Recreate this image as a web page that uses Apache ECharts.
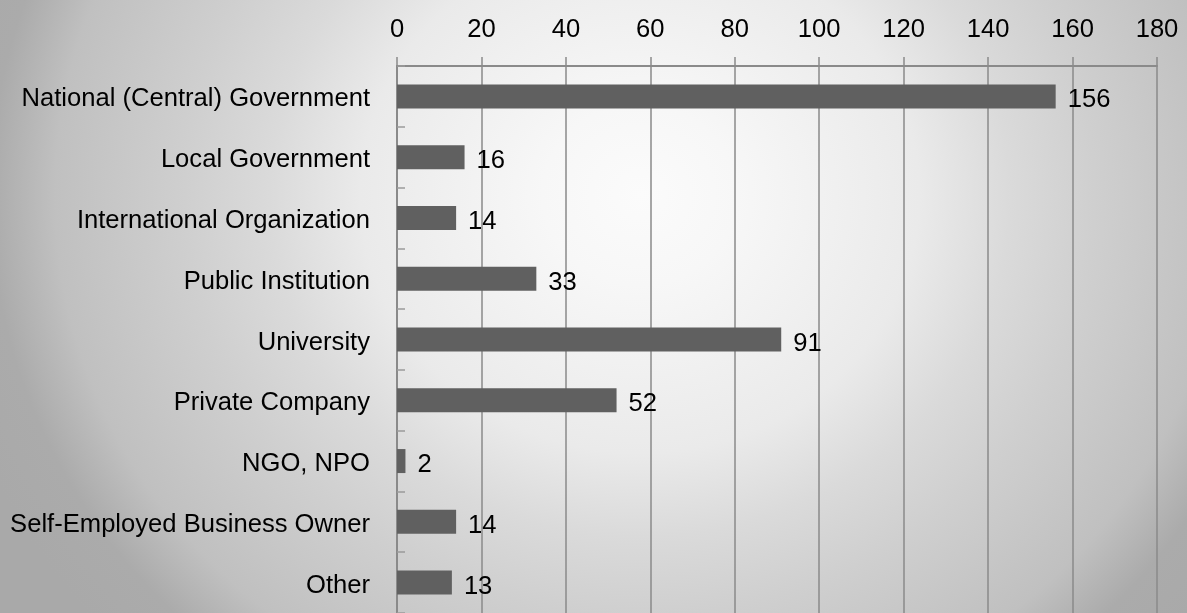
<!DOCTYPE html>
<html>
<head>
<meta charset="utf-8">
<script src="https://cdn.jsdelivr.net/npm/echarts@6/dist/echarts.min.js"></script>
<style>
  html, body { margin: 0; padding: 0; }
  #chart {
    width: 1187px; height: 613px;
    background: radial-gradient(650px 600px at 640px 195px,
      #fbfbfb 0%, #f7f7f7 15%, #eaeaea 43%, #dadada 57%, #cfcfcf 70%,
      #c0c0c0 90%, #ababab 100%, #a9a9a9 110%);
  }
</style>
</head>
<body>
<div id="chart"></div>
<script>
// Employers of respondents, count per sector
const categories = [
  'National (Central) Government',
  'Local Government',
  'International Organization',
  'Public Institution',
  'University',
  'Private Company',
  'NGO, NPO',
  'Self-Employed Business Owner',
  'Other'
];
const counts = [156, 16, 14, 33, 91, 52, 2, 14, 13];
const axisMax = 180;
const axisStep = 20;

const font = 'Liberation Sans, Arial, sans-serif';
const fontSize = 25.6;
const chart = echarts.init(document.getElementById('chart'));
chart.setOption({
  backgroundColor: 'transparent',
  animation: false,
  grid: { left: 397, right: 30, top: 66, height: 554, containLabel: false },
  xAxis: {
    type: 'value',
    position: 'top',
    min: 0, max: axisMax, interval: axisStep,
    axisLine: { show: true, lineStyle: { color: '#8a8a8a', width: 2 } },
    axisTick: { show: true, length: 9, lineStyle: { color: '#8a8a8a', width: 1.5 } },
    splitLine: { show: true, lineStyle: { color: '#8a8a8a', width: 1.5 } },
    axisLabel: { color: '#000', fontFamily: font, fontSize: fontSize, margin: 23 }
  },
  yAxis: {
    type: 'category',
    inverse: true,
    data: categories,
    axisLine: { show: true, lineStyle: { color: '#8a8a8a', width: 2 } },
    axisTick: { show: true, inside: true, length: 8, lineStyle: { color: '#9a9a9a', width: 1.5 } },
    axisLabel: {
      margin: 27,
      formatter: function (v) { return '{c|' + v + '}'; },
      rich: {
        c: { color: '#000', fontFamily: font, fontSize: fontSize, padding: [6, 0, 0, 0] }
      }
    }
  },
  series: [{
    type: 'bar',
    data: counts,
    barWidth: 24,
    itemStyle: { color: '#606060' },
    label: {
      show: true, position: 'right', distance: 12,
      color: '#000', fontFamily: font, fontSize: fontSize, offset: [0, 4]
    }
  }]
});
</script>
</body>
</html>
